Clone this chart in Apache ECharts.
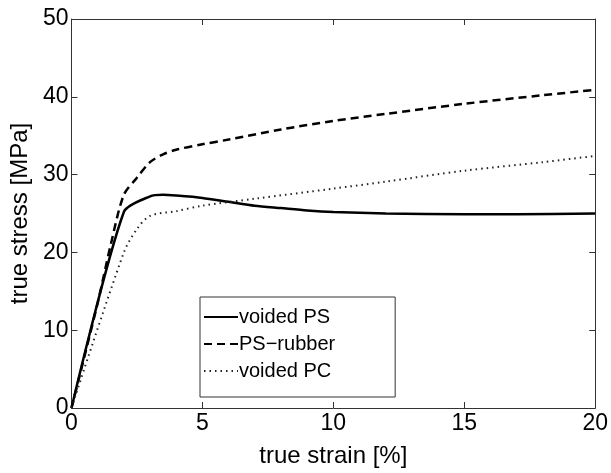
<!DOCTYPE html>
<html>
<head>
<meta charset="utf-8">
<script src="https://cdn.jsdelivr.net/npm/echarts@6/dist/echarts.min.js"></script>
<style>html,body{margin:0;padding:0;background:#fff}#c{width:611px;height:473px}</style>
</head>
<body>
<div id="c"></div>
<script>
var seriesNames = ['voided PS', 'PS\u2212rubber', 'voided PC'];
var psStrain = [0, 2, 3, 3.5, 4, 5, 6, 7, 8, 9, 10, 12, 15, 17, 20];
var psStress = [0, 25.2, 27.2, 27.4, 27.3, 27.0, 26.5, 26.0, 25.7, 25.4, 25.2, 25.0, 24.9, 24.9, 25.0];
var rubStrain = [0, 1, 1.5, 2, 2.5, 3, 3.5, 4, 5, 6, 8, 10, 12, 15, 18, 20];
var rubStress = [0, 13.5, 21, 27.4, 29.6, 31.6, 32.6, 33.2, 33.9, 34.5, 35.8, 36.9, 37.8, 39.1, 40.2, 40.9];
var pcStrain = [0, 2, 2.5, 3, 4, 5, 7, 10, 12, 15, 18, 20];
var pcStress = [0, 20, 23, 24.7, 25.3, 26.0, 26.9, 28.2, 29.1, 30.5, 31.6, 32.4];
var xTicks = [0, 5, 10, 15, 20];
var yTicks = [0, 10, 20, 30, 40, 50];

function pairs(xs, ys) { return xs.map(function (x, i) { return [x, ys[i]]; }); }

var chart = echarts.init(document.getElementById('c'), null, {renderer: 'canvas'});
var axisColor = '#333';
var font = 'Liberation Sans, Arial, Helvetica, sans-serif';
function baseX(pos, show) {
  return {
    type: 'value', position: pos, min: xTicks[0], max: xTicks[xTicks.length - 1], interval: 5,
    axisLine: {show: true, onZero: false, lineStyle: {color: axisColor, width: 1}},
    axisTick: {show: true, inside: true, length: 6, lineStyle: {color: axisColor}},
    axisLabel: {show: show, color: '#000', fontSize: 23, fontFamily: font, margin: 4},
    splitLine: {show: false}
  };
}
function baseY(pos, show) {
  return {
    type: 'value', position: pos, min: yTicks[0], max: yTicks[yTicks.length - 1], interval: 10,
    axisLine: {show: true, onZero: false, lineStyle: {color: axisColor, width: 1}},
    axisTick: {show: true, inside: true, length: 6, lineStyle: {color: axisColor}},
    axisLabel: {show: show, color: '#000', fontSize: 23, fontFamily: font, margin: 3},
    splitLine: {show: false}
  };
}
var xb = baseX('bottom', true);
xb.name = 'true strain [%]'; xb.nameLocation = 'middle'; xb.nameGap = 36;
xb.nameTextStyle = {color: '#000', fontSize: 24, fontFamily: font};
var xt = baseX('top', false);
var yl = baseY('left', true);
yl.name = 'true stress [MPa]'; yl.nameLocation = 'middle'; yl.nameGap = 35;
yl.nameTextStyle = {color: '#000', fontSize: 24, fontFamily: font};
var yr = baseY('right', false);

chart.setOption({
  animation: false,
  backgroundColor: '#fff',
  grid: {left: 66, right: 15, top: 19, bottom: 54},
  xAxis: [xb, xt],
  yAxis: [yl, yr],
  legend: {
    show: true,
    orient: 'vertical', left: 200, top: 297,
    backgroundColor: '#fff', borderColor: '#333', borderWidth: 1,
    padding: [10, 60, 16, 3], itemGap: 7, itemWidth: 34, itemHeight: 20,
    itemStyle: {opacity: 0},
    textStyle: {color: '#000', fontSize: 20, fontFamily: font, padding: [0, 0, 0, -4]},
    data: seriesNames
  },
  series: [
    {name: seriesNames[0], type: 'line', showSymbol: false, symbol: 'none',
     smooth: 0.25, lineStyle: {color: '#000', width: 2.5, type: 'solid'}, itemStyle: {color: '#000'},
     data: pairs(psStrain, psStress)},
    {name: seriesNames[1], type: 'line', showSymbol: false, symbol: 'none',
     smooth: 0.3, lineStyle: {color: '#000', width: 2.5, type: [8, 5]}, itemStyle: {color: '#000'},
     data: pairs(rubStrain, rubStress)},
    {name: seriesNames[2], type: 'line', showSymbol: false, symbol: 'none',
     smooth: 0.3, lineStyle: {color: '#222', width: 2, type: [1.5, 4]}, itemStyle: {color: '#222'},
     data: pairs(pcStrain, pcStress)}
  ]
});
</script>
</body>
</html>
